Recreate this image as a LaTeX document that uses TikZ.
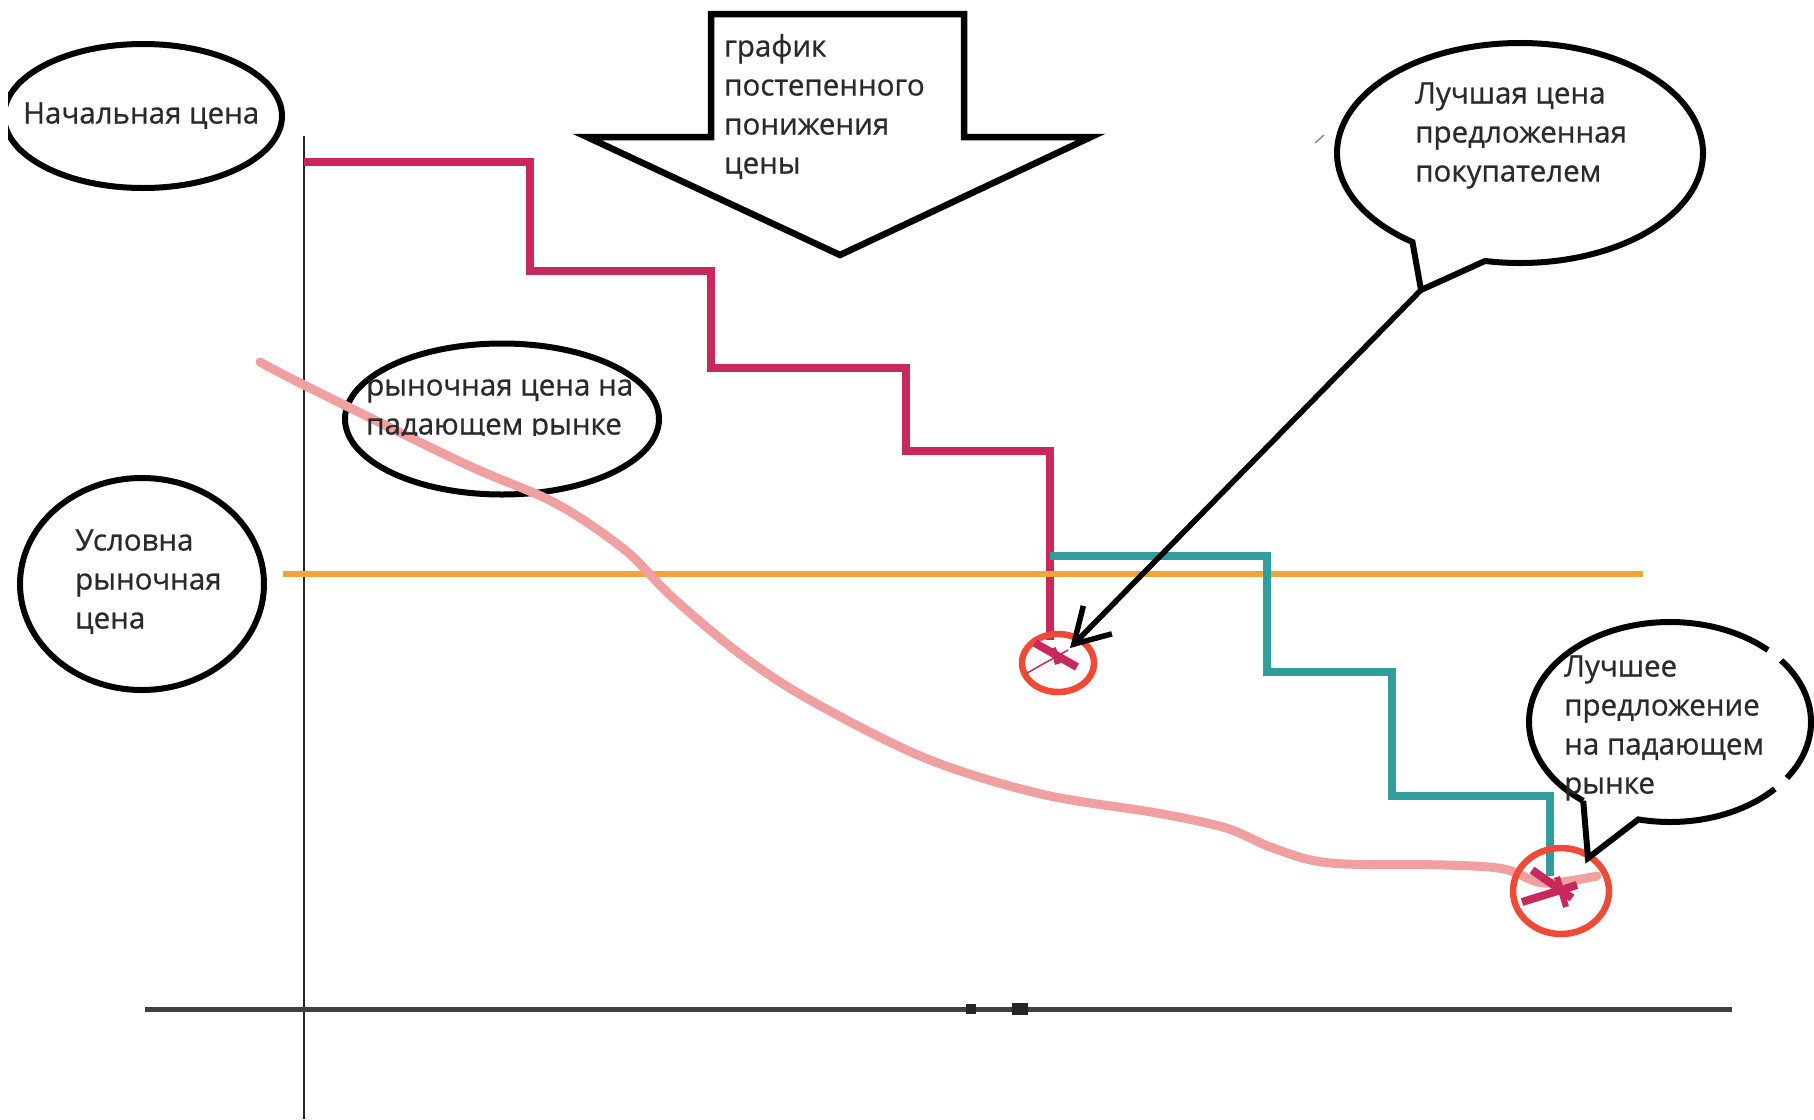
\documentclass[tikz,border=0pt]{standalone}
\usepackage{fontspec}
\setmainfont{Open Sans}
\newfontfamily\lblfont[FakeBold=0.7]{Open Sans}
\usetikzlibrary{shapes.geometric,arrows.meta,calc}
\definecolor{magc}{HTML}{C8285C}
\definecolor{tealc}{HTML}{2F9E9C}
\definecolor{orangec}{HTML}{F2A43A}
\definecolor{pinkc}{HTML}{F0A0A0}
\definecolor{redc}{HTML}{EF4A36}
\definecolor{txtc}{HTML}{2A2A2A}
\begin{document}
\begin{tikzpicture}[x=1pt,y=-1pt,
  outl/.style={draw=black, line width=6pt},
  oval/.style={ellipse, draw=black, line width=6pt, inner sep=0pt},
  lbl/.style={anchor=north west, inner sep=0pt, align=left, text=txtc,
    font=\lblfont\fontsize{29.5}{39}\selectfont},
  stepline/.style={line width=8pt, line join=miter, line cap=butt},
  ring/.style={ellipse, draw=redc, line width=6.5pt, inner sep=0pt},
  xmark/.style={magc, line width=8pt, line cap=butt}]
\useasboundingbox (0,0) rectangle (1814,1119);
\fill[white] (0,0) rectangle (1814,1119);

% axes
\coordinate (yaxT) at (304,136);
\coordinate (yaxB) at (304,1119);
\coordinate (xaxL) at (145,1009);
\coordinate (xaxR) at (1732,1009);
\draw[black!85, line width=2.5pt] (yaxT) -- (yaxB);
\draw[black!75, line width=5pt] (xaxL) -- (xaxR);
\fill[black!85] (966,1004) rectangle (976,1014);
\fill[black!85] (1012,1003) rectangle (1028,1015);

% ellipses
\begin{scope}
\clip (8,0) rectangle (400,300);
\node[oval, minimum width=278, minimum height=144] (nachE) at (143,116) {};
\end{scope}
\node[lbl] (nachT) at (23,96) {\strut Начальная цена};

\node[oval, minimum width=244, minimum height=212] (uslE) at (142,584) {};
\node[lbl] (uslT) at (75,523) {\strut Условна\\рыночная\\цена};

\node[oval, minimum width=314, minimum height=151] (rynE) at (502,419) {};

% magenta staircase
\draw[stepline, magc] (304,162) -- (530,162) -- (530,271) -- (711,271) -- (711,368)
  -- (906,368) -- (906,451) -- (1050,451) -- (1050,640);

% orange line
\coordinate (orL) at (283,574);
\coordinate (orR) at (1643,574);
\draw[orangec, line width=6.5pt] (orL) -- (orR);

% pink market curve
\draw[pinkc, line width=9pt, line cap=round] plot[smooth, tension=0.55] coordinates {
  (260,362) (304,385) (463,463) (555,503) (625,550) (671,596) (740,654) (810,700)
  (925,758) (1041,794) (1157,813) (1226,828) (1273,848) (1330,863) (1446,865)
  (1504,869) (1544,883) (1597,876)};

\begin{scope}
\clip (300,340) rectangle (700,435);
\node[lbl] (rynT) at (366,368) {\strut рыночная цена на\\падающем рынке};
\end{scope}

% teal staircase
\draw[stepline, tealc, line width=7.5pt] (1050,556) -- (1267,556) -- (1267,672) -- (1392,672)
  -- (1392,796) -- (1550,796) -- (1550,876);

% big down arrow
\draw[outl, line width=6.5pt, fill=white, line join=miter] (711,14) -- (964,14) -- (964,137)
  -- (1091,137) -- (840,255) -- (587,137) -- (711,137) -- cycle;
\node[lbl] (arrT) at (724,29) {\strut график\\постепенного\\понижения\\цены};

% bubble 1
\coordinate (b1c) at (1520,153);
\coordinate (b1tail) at (1421,290);
\draw[outl, fill=white, line join=miter] ($(b1c)+(-126:183pt and 110pt)$)
  arc[start angle=-126, end angle=-461, x radius=183pt, y radius=110pt]
  -- (b1tail) -- cycle;
\node[lbl] (b1T) at (1415,76) {\strut Лучшая цена\\предложенная\\покупателем};
\draw[black!45, line width=1.5pt] (1315,143) -- (1324,135);

% rings
\node[ring, minimum width=72, minimum height=58] (ring1) at (1058,663) {};
\node[ring, minimum width=96, minimum height=86] (ring2) at (1561,891) {};

% crosses
\draw[xmark] (1035,643) -- (1077,667);
\draw[xmark, line width=6pt] (1053,648) -- (1058,664);
\draw[magc, line width=1.5pt] (1027,673) -- (1068,650);
\draw[xmark] (1532,870) -- (1572,898);
\draw[xmark] (1522,902) -- (1577,885);
\draw[xmark, line width=6pt] (1557,877) -- (1566,907);

% arrow to ring 1
\coordinate (tip1) at (1070,648);
\draw[black, line width=5.5pt, -{Straight Barb[length=34pt, width=40pt]}] (b1tail) -- (tip1);

% bubble 2 (outline with small breaks)
\coordinate (b2c) at (1670,722);
\coordinate (b2tail) at (1588,858);
\draw[outl] ($(b2c)+(-128:141pt and 100pt)$)
  arc[start angle=-128, end angle=-314, x radius=141pt, y radius=100pt];
\draw[outl] ($(b2c)+(-322:141pt and 100pt)$)
  arc[start angle=-322, end angle=-394, x radius=141pt, y radius=100pt];
\draw[outl, line join=miter] ($(b2c)+(-402:141pt and 100pt)$)
  arc[start angle=-402, end angle=-463, x radius=141pt, y radius=100pt]
  -- (b2tail) -- ($(b2c)+(-128:141pt and 100pt)$);
\node[lbl] (b2T) at (1564,649) {\strut Лучшее\\предложение\\на падающем\\рынке};
\end{tikzpicture}
\end{document}
